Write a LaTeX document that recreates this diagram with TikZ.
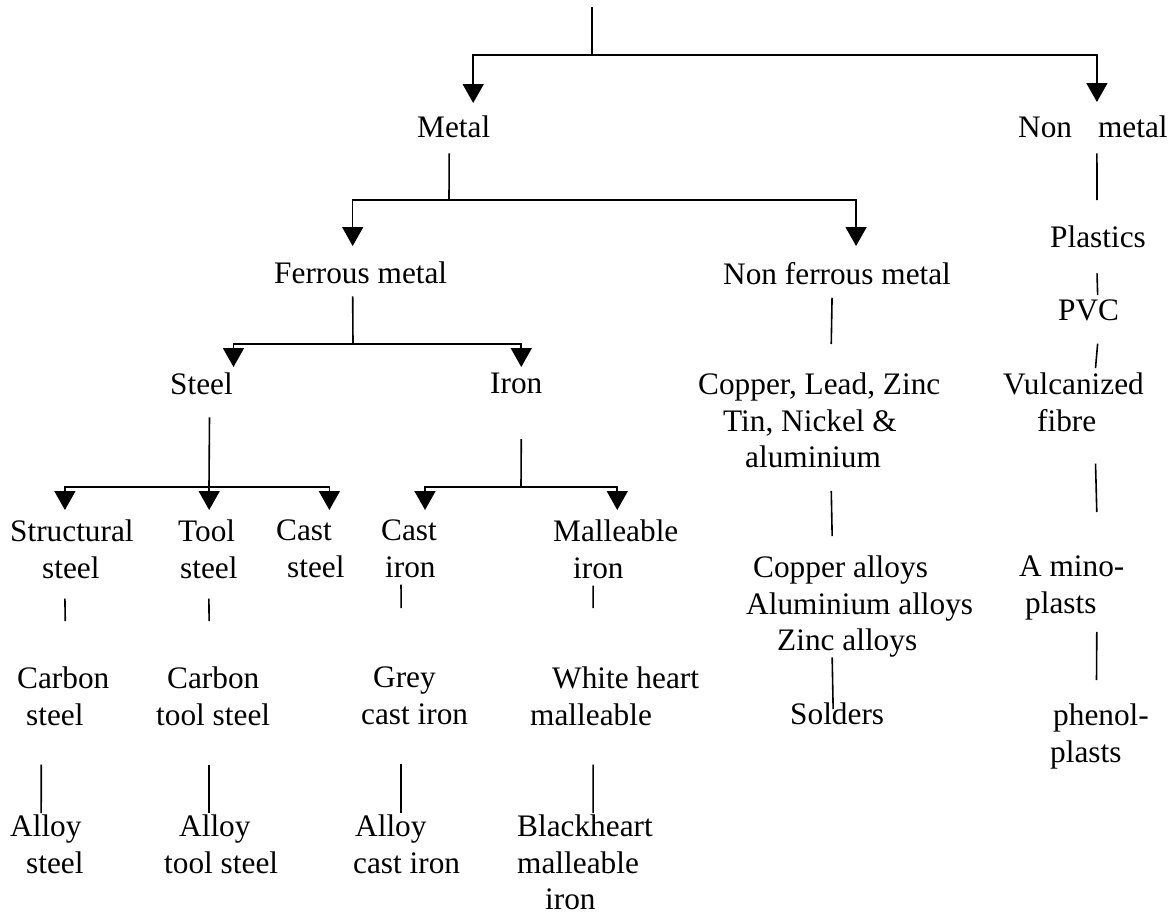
\documentclass[tikz,border=0pt]{standalone}
\usepackage{fontspec}
\setmainfont{Liberation Serif}
\usepackage{tikz}
\usetikzlibrary{arrows.meta}
\tikzset{entry/.style={anchor=north west,align=left,inner sep=0pt,
  font=\fontsize{31.3pt}{36.2pt}\selectfont},
 link/.style={line width=1.6pt},
 branch/.style={link,-{Triangle[width=21pt,length=19pt]}}}

\begin{document}
\begin{tikzpicture}[x=1pt,y=-1pt]
\useasboundingbox (0,0) rectangle (1175,913);
% classes, each placed by its upper left corner
\node[entry] (metal) at (417,116) {Metal};
\node[entry] (nonmetal) at (1018,116) {Non\hspace{26pt}metal};
\node[entry] (ferrous) at (274,262) {Ferrous metal};
\node[entry] (nonferrous) at (723,262) {Non ferrous metal};
\node[entry] (steel) at (170,373) {Steel};
\node[entry] (iron) at (490,373) {Iron};
\node[entry] (structural) at (10,520) {Structural\\\hspace*{32pt}steel};
\node[entry] (tool) at (178,520) {Tool\\\hspace*{2pt}steel};
\node[entry] (caststeel) at (276,520) {Cast\\\hspace*{11pt}steel};
\node[entry] (castiron) at (381,520) {Cast\\\hspace*{4pt}iron};
\node[entry] (malleable) at (553,520) {Malleable\\\hspace*{20pt}iron};
\node[entry] (carbon) at (17,667) {Carbon\\\hspace*{9pt}steel};
\node[entry] (carbontool) at (156,667) {\hspace*{11pt}Carbon\\tool steel};
\node[entry] (grey) at (361,667) {\hspace*{12pt}Grey\\cast iron};
\node[entry] (white) at (530,667) {\hspace*{22pt}White heart\\malleable};
\node[entry] (alloy) at (10,815) {Alloy\\\hspace*{16pt}steel};
\node[entry] (alloytool) at (164,815) {\hspace*{15pt}Alloy\\tool steel};
\node[entry] (alloycast) at (353,815) {\hspace*{2pt}Alloy\\cast iron};
\node[entry] (black) at (517,815) {Blackheart\\malleable\\\hspace*{28pt}iron};
\node[entry] (copper) at (698,373) {Copper, Lead, Zinc\\\hspace*{25pt}Tin, Nickel \&\\\hspace*{47pt}aluminium};
\node[entry] (alloys) at (746,556) {\hspace*{7pt}Copper alloys\\Aluminium alloys\\\hspace*{31pt}Zinc alloys};
\node[entry] (solders) at (790,703) {Solders};
\node[entry] (plastics) at (1050,226) {Plastics};
\node[entry] (pvc) at (1058,300) {PVC};
\node[entry] (vulc) at (1003,373) {Vulcanized\\\hspace*{34pt}fibre};
\node[entry] (amino) at (1019,556) {A mino-\\\hspace*{6pt}plasts};
\node[entry] (phenol) at (1050,704) {\hspace*{3pt}phenol-\\plasts};

% forks of the tree
\coordinate (top) at (592,7);
\coordinate (rootfork) at (592,55);
\coordinate (metalfork) at (449,200);
\coordinate (ferrousfork) at (353,344);
\coordinate (steelfork) at (209,487);
\coordinate (ironfork) at (521,487);

\draw[branch] (top) -- (rootfork) -| ([xshift=19.5pt,yshift=13pt]metal.north);
\draw[branch] (rootfork) -| ([xshift=4pt,yshift=14pt]nonmetal.north);

\draw[link] ([xshift=-4.5pt,yshift=-15pt]metal.south) -- (metalfork);
\draw[branch] (metalfork) -| ([xshift=-8pt,yshift=16pt]ferrous.north);
\draw[branch] (metalfork) -| ([xshift=19pt,yshift=16pt]nonferrous.north);

\draw[link] ([xshift=-8pt,yshift=-12pt]ferrous.south) -- (ferrousfork);
\draw[branch] (ferrousfork) -| ([xshift=32pt,yshift=6pt]steel.north);
\draw[branch] (ferrousfork) -| ([xshift=5pt,yshift=6pt]iron.north);

\draw[link] ([xshift=8pt,yshift=-22pt]steel.south) -- (steelfork);
\draw[branch] (steelfork) -| ([xshift=-7pt,yshift=10pt]structural.north);
\draw[branch] (steelfork) -| ([xshift=1.3pt,yshift=10pt]tool.north);
\draw[branch] (steelfork) -| ([xshift=19pt,yshift=10pt]caststeel.north);

\draw[link] ([xshift=5pt,yshift=-45pt]iron.south) -- (ironfork);
\draw[branch] (ironfork) -| ([xshift=16pt,yshift=10pt]castiron.north);
\draw[branch] (ironfork) -| ([xshift=1.5pt,yshift=10pt]malleable.north);

% plain links further down
\draw[link] ([xshift=-7pt,yshift=-20pt]structural.south) -- ([xshift=2pt,yshift=46pt]carbon.north);
\draw[link] ([xshift=1pt,yshift=-20pt]tool.south) -- ([xshift=-4pt,yshift=46pt]carbontool.north);
\draw[link] ([xshift=-8pt,yshift=-7pt]castiron.south) -- ([xshift=-13.5pt,yshift=59pt]grey.north);
\draw[link] ([xshift=-22.6pt,yshift=-7pt]malleable.south) -- ([xshift=-21.5pt,yshift=59pt]white.north);

\draw[link] ([xshift=-22pt,yshift=-39pt]carbon.south) -- ([xshift=-5.7pt,yshift=2pt]alloy.north);
\draw[link] ([xshift=-4pt,yshift=-39pt]carbontool.south) -- ([xshift=-12pt,yshift=2pt]alloytool.north);
\draw[link] ([xshift=-13.5pt,yshift=-39pt]grey.south) -- ([xshift=-5.5pt,yshift=2pt]alloycast.north);
\draw[link] ([xshift=-21.5pt,yshift=-39pt]white.south) -- ([xshift=8.2pt,yshift=2pt]black.north);

\draw[link] ([xshift=-5pt,yshift=-13pt]nonferrous.south) -- ([xshift=12pt,yshift=29pt]copper.north);
\draw[link] ([xshift=12pt,yshift=-23pt]copper.south) -- ([xshift=-27.5pt,yshift=20pt]alloys.north);
\draw[link] ([xshift=-27.5pt]alloys.south) -- ([xshift=-4pt,yshift=-6pt]solders.north);

\draw[link] ([xshift=4pt,yshift=-15pt]nonmetal.south) -- ([xshift=-1pt,yshift=26pt]plastics.north);
\draw[link] ([xshift=-1pt,yshift=-25pt]plastics.south) -- ([xshift=9pt,yshift=5pt]pvc.north);
\draw[link] ([xshift=9pt,yshift=-22pt]pvc.south) -- ([xshift=22pt,yshift=5pt]vulc.north);
\draw[link] ([xshift=22pt,yshift=-32pt]vulc.south) -- ([xshift=25pt,yshift=44pt]amino.north);
\draw[link] ([xshift=25pt,yshift=-12pt]amino.south) -- ([xshift=-3pt,yshift=24pt]phenol.north);
\end{tikzpicture}
\end{document}
